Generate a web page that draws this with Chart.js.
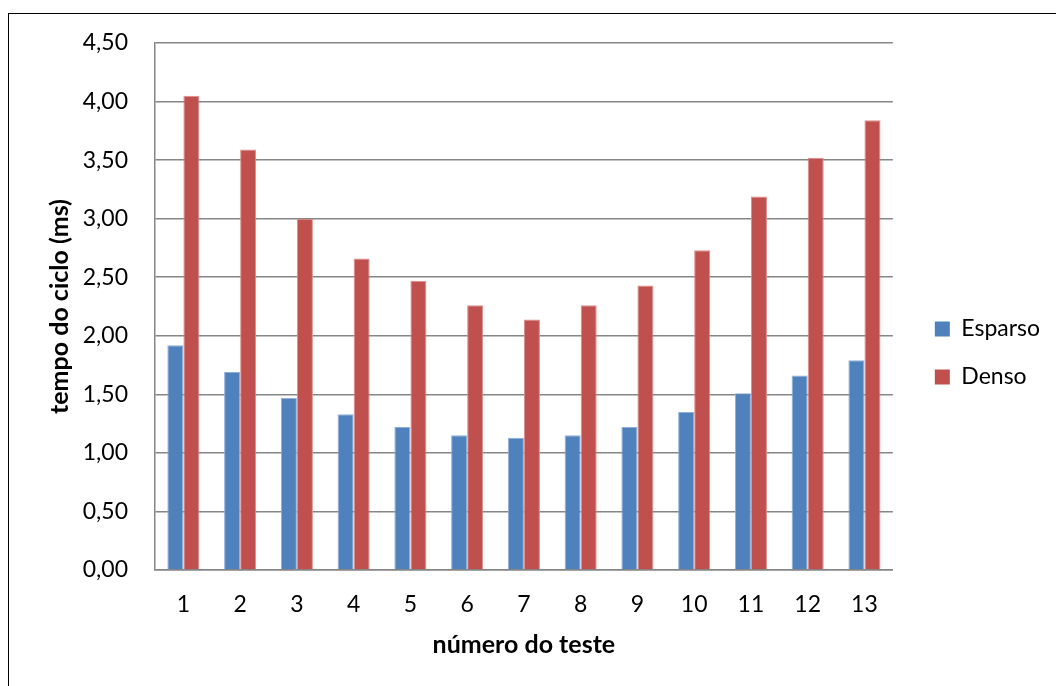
<!DOCTYPE html>
<html>
<head>
<meta charset="utf-8">
<title>tempo do ciclo</title>
<script src="https://cdn.jsdelivr.net/npm/chart.js@4.4.1/dist/chart.umd.min.js"></script>
<style>
    html, body { margin: 0; padding: 0; background: #fff; overflow: hidden; }
    #frame {
        position: absolute; left: 8px; top: 13px; width: 1100px; height: 720px;
        border-top: 1.5px solid #000; border-left: 1.5px solid #000;
    }
    #wrap { position: absolute; left: 0; top: 0; width: 1056px; height: 686px; }
</style>
</head>
<body>
<div id="frame"></div>
<div id="wrap"><canvas id="grafico"></canvas></div>
<script>
var testes = ['1', '2', '3', '4', '5', '6', '7', '8', '9', '10', '11', '12', '13'];
var esparso = [1.92, 1.69, 1.47, 1.33, 1.22, 1.15, 1.13, 1.15, 1.22, 1.35, 1.51, 1.66, 1.79];
var denso = [4.05, 3.59, 3.00, 2.66, 2.47, 2.26, 2.14, 2.26, 2.43, 2.73, 3.19, 3.52, 3.84];
var yTicks = [0, 0.5, 1, 1.5, 2, 2.5, 3, 3.5, 4, 4.5];

var AZUL = '#4F81BD';
var VERMELHO = '#C0504D';
var GRADE = '#868686';

Chart.defaults.font.family = 'Lato, "Open Sans", sans-serif';
Chart.defaults.color = '#000';

function virgula(v) {
    return Number(v).toFixed(2).replace('.', ',');
}

var ctx = document.getElementById('grafico').getContext('2d');
var grafico = new Chart(ctx, {
    type: 'bar',
    data: {
        labels: testes,
        datasets: [{
            label: 'Esparso',
            data: esparso,
            backgroundColor: AZUL,
            borderColor: '#8FAFD8',
            borderWidth: 1,
            borderSkipped: 'bottom'
        }, {
            label: 'Denso',
            data: denso,
            backgroundColor: VERMELHO,
            borderColor: '#DC8E8C',
            borderWidth: 1,
            borderSkipped: 'bottom'
        }]
    },
    options: {
        responsive: true,
        maintainAspectRatio: false,
        animation: false,
        categoryPercentage: 0.565,
        barPercentage: 1,
        layout: {
            padding: { top: 43, bottom: 23, left: 45, right: 6 }
        },
        plugins: {
            tooltip: { enabled: false },
            legend: {
                position: 'right',
                labels: {
                    boxWidth: 15,
                    boxHeight: 15,
                    padding: 25,
                    font: { size: 23 },
                    generateLabels: function(chart) {
                        return chart.data.datasets.map(function(ds, i) {
                            return {
                                text: ds.label,
                                fillStyle: ds.backgroundColor,
                                strokeStyle: ds.backgroundColor,
                                lineWidth: 0,
                                datasetIndex: i
                            };
                        });
                    }
                }
            }
        },
        scales: {
            x: {
                grid: { display: false, drawTicks: false },
                border: { display: true, color: GRADE, width: 1.5 },
                ticks: { padding: 21, font: { size: 23 } },
                title: {
                    display: true,
                    text: 'número do teste',
                    font: { size: 25, weight: 'bold' },
                    padding: { top: 0, bottom: 3 }
                },
                afterFit: function(scale) { scale.height = 93; }
            },
            y: {
                min: 0,
                max: 4.5,
                afterBuildTicks: function(scale) {
                    scale.ticks = yTicks.map(function(v) { return { value: v }; });
                },
                grid: { color: GRADE, lineWidth: 1.5, drawTicks: false },
                border: { display: true, color: GRADE, width: 1.5 },
                ticks: {
                    padding: 27,
                    font: { size: 23 },
                    callback: function(v) { return virgula(v); }
                },
                title: {
                    display: true,
                    text: 'tempo do ciclo (ms)',
                    font: { size: 25, weight: 'bold' },
                    padding: { top: 0, bottom: 0 }
                },
                afterFit: function(scale) { scale.width = 110; }
            },
            // empty spacer between the plot and the legend
            espaco: {
                type: 'linear',
                position: 'right',
                display: true,
                grid: { display: false, drawTicks: false },
                border: { display: false },
                ticks: { display: false },
                afterFit: function(scale) { scale.width = 17; }
            }
        }
    }
});
</script>
</body>
</html>
